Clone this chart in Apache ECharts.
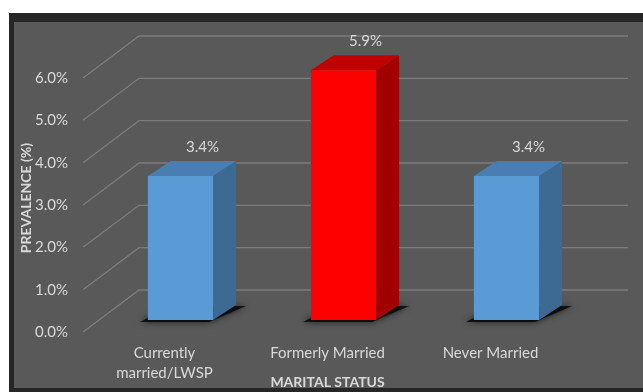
<!DOCTYPE html>
<html><head><meta charset="utf-8">
<script src="https://cdn.jsdelivr.net/npm/echarts@6/dist/echarts.min.js"></script>
<style>html,body{margin:0;padding:0;background:#fff}#c{width:643px;height:392px}</style>
</head><body><div id="c"></div>
<script>
// ---- data ----
const categories = ['Currently\nmarried/LWSP', 'Formerly Married', 'Never Married'];
const prevalence = [3.4, 5.9, 3.4];
const yTicks = [0, 1, 2, 3, 4, 5, 6];
const xTitle = 'MARITAL STATUS';
const yTitle = 'PREVALENCE (%)';

// ---- style ----
const FONT = 'Lato';
const TXT = '#d9d9d9';
const GRID_C = '#7c7c7c';
const WALL = [56, -42];      // back wall offset
const BAR_OFF = [16, -12];   // bar front plane offset from axis plane
const BAR_DEPTH = [23, -15];
const faces = [
  {front: '#5b9bd5', top: '#4a7eb3', side: '#3d6a93'},
  {front: '#ff0000', top: '#c00000', side: '#a20000'},
  {front: '#5b9bd5', top: '#4a7eb3', side: '#3d6a93'}
];

const chart = echarts.init(document.getElementById('c'), null, {renderer: 'canvas'});

function wallItem(params, api) {
  const cs = params.coordSys;
  const v = api.value(0);
  const y = api.coord([0, v])[1];
  const x0 = cs.x, x1 = cs.x + cs.width + WALL[0];
  return {
    type: 'polyline',
    shape: {points: [[x0, y], [x0 + WALL[0], y + WALL[1]], [x1, y + WALL[1]]]},
    style: {stroke: GRID_C, lineWidth: 1.3, fill: null}
  };
}

function barItem(params, api) {
  const i = api.value(0);
  const v = api.value(1);
  const top = api.coord([i, v]);
  const base = api.coord([i, 0]);
  const w = api.size([1, 0])[0] * 0.4;
  const cx = top[0] + BAR_OFF[0];
  const xl = cx - w / 2, xr = cx + w / 2;
  const yt = top[1] + BAR_OFF[1], yb = base[1] + BAR_OFF[1];
  const dx = BAR_DEPTH[0], dy = BAR_DEPTH[1];
  const f = faces[i];
  return {
    type: 'group',
    children: [
      {type: 'polygon', shape: {points: [[xl - 8, yb + 2], [xr - 4, yb + 2], [xr + dx + 10, yb + dy + 1], [xl + dx, yb + dy + 1]]},
        style: {fill: 'rgba(0,0,0,0.75)', shadowBlur: 6, shadowColor: 'rgba(0,0,0,0.9)'}},
      {type: 'polygon', shape: {points: [[xr, yt], [xr + dx, yt + dy], [xr + dx, yb + dy], [xr, yb]]},
        style: {fill: f.side}},
      {type: 'polygon', shape: {points: [[xl, yt], [xr, yt], [xr + dx, yt + dy], [xl + dx, yt + dy]]},
        style: {fill: f.top}},
      {type: 'rect', shape: {x: xl, y: yt, width: w, height: yb - yt},
        style: {fill: f.front}},
      {type: 'text', x: cx + 22, y: yt + dy - 14,
        style: {text: v.toFixed(1) + '%', fill: TXT, font: '15px ' + FONT, align: 'center', verticalAlign: 'middle'}}
    ]
  };
}

chart.setOption({
  animation: false,
  backgroundColor: '#ffffff',
  graphic: [
    {type: 'rect', z: -10, shape: {x: 9, y: 13, width: 634, height: 379}, style: {fill: '#262626'}},
    {type: 'rect', z: -10, shape: {x: 14, y: 22, width: 629, height: 366}, style: {fill: '#595959'}}
  ],
  grid: {left: 83, right: 71, top: 78, bottom: 60, containLabel: false, outerBoundsMode: 'none'},
  xAxis: {
    type: 'category', data: categories,
    axisLine: {show: false}, axisTick: {show: false},
    axisLabel: {color: TXT, fontFamily: FONT, fontSize: 15, lineHeight: 20, margin: 11, interval: 0},
    name: xTitle, nameLocation: 'middle', nameGap: 43, nameMoveOverlap: false,
    nameTextStyle: {color: TXT, fontFamily: FONT, fontSize: 14, fontWeight: 'bold'}
  },
  yAxis: {
    type: 'value', min: 0, max: 6, interval: 1,
    axisLine: {show: false}, axisTick: {show: false}, splitLine: {show: false},
    axisLabel: {color: TXT, fontFamily: FONT, fontSize: 15, margin: 15, formatter: v => v.toFixed(1) + '%'},
    name: yTitle, nameLocation: 'middle', nameGap: 50, nameRotate: 90, nameMoveOverlap: false,
    nameTextStyle: {color: TXT, fontFamily: FONT, fontSize: 14, fontWeight: 'bold', padding: [0, 0, 0, 14]}
  },
  series: [
    {type: 'custom', renderItem: wallItem, data: yTicks.map(v => [v]), encode: {y: 0}, silent: true, z: 1},
    {type: 'custom', renderItem: barItem, data: prevalence.map((v, i) => [i, v]), encode: {x: 0, y: 1}, z: 2}
  ]
});
</script>
</body></html>
